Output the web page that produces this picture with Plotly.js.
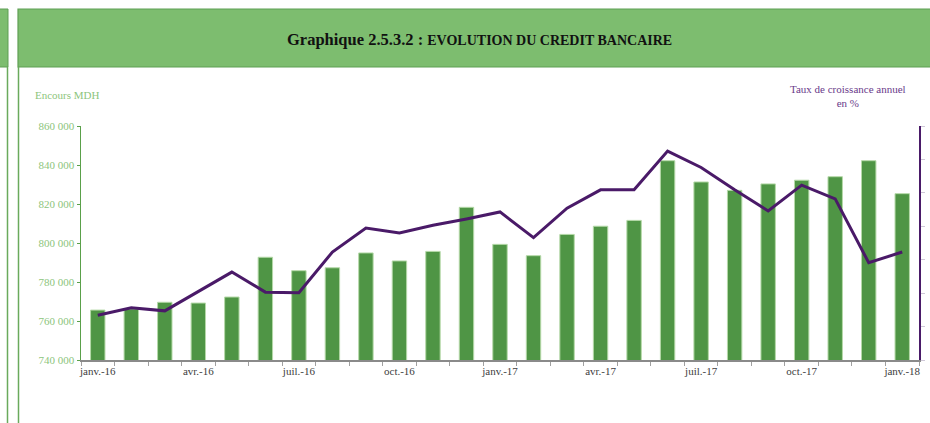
<!DOCTYPE html>
<html>
<head>
<meta charset="utf-8">
<script src="https://cdn.plot.ly/plotly-3.0.1.min.js"></script>
<style>
html,body{margin:0;padding:0;overflow:hidden;background:#fff;width:930px;height:423px;}
#chart{width:960px;height:423px;}
</style>
</head>
<body>
<div id="chart"></div>
<script>
// Data
const months = ["janv.-16","févr.-16","mars-16","avr.-16","mai-16","juin-16","juil.-16","août-16","sept.-16","oct.-16","nov.-16","déc.-16",
                "janv.-17","févr.-17","mars-17","avr.-17","mai-17","juin-17","juil.-17","août-17","sept.-17","oct.-17","nov.-17","déc.-17","janv.-18"];
const tickLabels = ["janv.-16","","","avr.-16","","","juil.-16","","","oct.-16","","",
                    "janv.-17","","","avr.-17","","","juil.-17","","","oct.-17","","","janv.-18"];
const encours = [765600,766200,769600,769200,772300,792700,785800,787300,794900,790800,795700,818300,
                 799300,793500,804400,808600,811600,842200,831300,827000,830300,832200,834000,842200,825300];
const croissance = [1.34,1.56,1.47,2.04,2.63,2.03,2.01,3.23,3.95,3.80,4.03,4.22,
                    4.43,3.66,4.54,5.09,5.09,6.25,5.76,5.09,4.46,5.23,4.82,2.91,3.23];

// pixel -> paper helpers (plot area: x 81..919, y 126..360)
const L=81, R=919, T=126, B=360;
const px = x => (x - L) / (R - L);
const py = y => (B - y) / (B - T);

const serif = "Liberation Serif, Times New Roman, serif";

const traces = [
  {
    type: "bar", x: months, y: encours, yaxis: "y",
    marker: {color: "#4f9545", line: {color: "#b5d9a8", width: 1}},
    hoverinfo: "x+y", showlegend: false
  },
  {
    type: "scatter", mode: "lines", x: months, y: croissance, yaxis: "y2",
    line: {color: "#4a1a68", width: 3},
    showlegend: false
  }
];

const layout = {
  width: 960, height: 423,
  margin: {l: L, r: 960 - R, t: T, b: 423 - B},
  paper_bgcolor: "#ffffff", plot_bgcolor: "#ffffff",
  separators: ", ",
  bargap: 0.57,
  font: {family: serif, size: 11, color: "#404040"},
  xaxis: {
    type: "category",
    tickmode: "array", tickvals: months, ticktext: tickLabels,
    tickson: "boundaries", tickangle: 0,
    ticks: "outside", ticklen: 4, tickcolor: "#a0a0a0",
    showline: true, linecolor: "#8a8a8a", linewidth: 1.5,
    showgrid: false, zeroline: false,
    tickfont: {family: serif, size: 11, color: "#404040"},
    range: [-0.5, 24.5]
  },
  yaxis: {
    range: [740000, 860000], dtick: 20000, tickformat: ",d",
    ticks: "outside", ticklen: 3, tickcolor: "#5aa04a",
    showline: true, linecolor: "#5aa04a", linewidth: 1.5,
    showgrid: false, zeroline: false,
    tickfont: {family: serif, size: 11, color: "#8cc57c"}
  },
  yaxis2: {
    overlaying: "y", side: "right",
    range: [0, 7], dtick: 1,
    ticks: "outside", ticklen: 4, tickcolor: "#cfc8d8",
    ticklabelstandoff: 4,
    showline: true, linecolor: "#4a1a68", linewidth: 1.5,
    showgrid: false, zeroline: false,
    tickfont: {family: serif, size: 11, color: "#c4c4c4"}
  },
  shapes: [
    // left neighbour panel header piece
    {type: "rect", xref: "paper", yref: "paper", x0: px(-3), x1: px(8), y0: py(67), y1: py(9),
     fillcolor: "#7dbd6f", line: {color: "#5f9f54", width: 1}, layer: "below"},
    // main header band
    {type: "rect", xref: "paper", yref: "paper", x0: px(18), x1: px(975), y0: py(67), y1: py(9),
     fillcolor: "#7dbd6f", line: {color: "#5f9f54", width: 1.2}, layer: "below"},
    // vertical frame lines
    {type: "line", xref: "paper", yref: "paper", x0: px(7.5), x1: px(7.5), y0: py(67), y1: py(430),
     line: {color: "#6aaa5c", width: 1.5}},
    {type: "line", xref: "paper", yref: "paper", x0: px(18.5), x1: px(18.5), y0: py(67), y1: py(430),
     line: {color: "#6aaa5c", width: 1.5}}
  ],
  annotations: [
    {xref: "paper", yref: "paper", x: px(479), y: py(39), xanchor: "center", yanchor: "middle",
     showarrow: false,
     text: "<b>Graphique 2.5.3.2 : <span style='font-size:14px'>EVOLUTION DU CREDIT BANCAIRE</span></b>",
     font: {family: serif, size: 16.5, color: "#111111"}},
    {xref: "paper", yref: "paper", x: px(33), y: py(95), xanchor: "left", yanchor: "middle",
     showarrow: false, text: "Encours MDH",
     font: {family: serif, size: 11, color: "#8cc57c"}},
    {xref: "paper", yref: "paper", x: px(848), y: py(96), xanchor: "center", yanchor: "middle",
     showarrow: false, text: "Taux de croissance annuel<br>en %",
     font: {family: serif, size: 11, color: "#6a3a8a"}}
  ]
};

Plotly.newPlot("chart", traces, layout, {displayModeBar: false, staticPlot: true});
</script>
</body>
</html>
